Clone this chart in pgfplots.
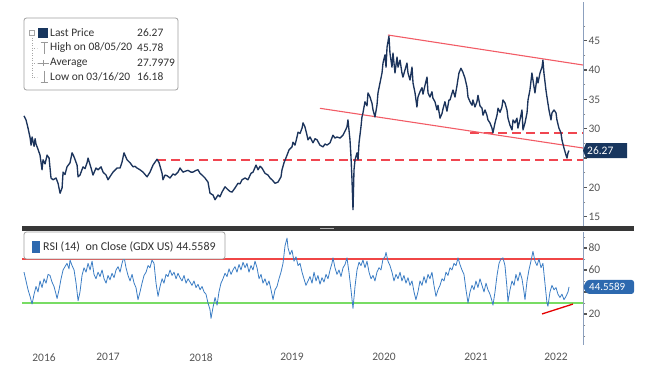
\documentclass[border=0pt]{standalone}
\usepackage{pgfplots}
\pgfplotsset{compat=1.18}
\usepackage{pgfplotstable}
\usepackage{fontspec}
\setmainfont{Carlito}
\definecolor{navy}{RGB}{28,52,92}
\definecolor{rsiblue}{RGB}{59,125,196}
\definecolor{trendred}{RGB}{242,92,102}
\definecolor{dashred}{RGB}{240,70,80}
\definecolor{rsired}{RGB}{240,70,70}
\definecolor{rsigreen}{RGB}{120,220,100}
\definecolor{axisline}{RGB}{140,160,190}
\definecolor{ticktext}{RGB}{85,85,85}
\definecolor{tagnavy}{RGB}{24,54,94}
\definecolor{tagblue}{RGB}{45,105,175}
\definecolor{divider}{RGB}{55,55,55}
\definecolor{legtext}{RGB}{50,50,50}
\pgfplotsset{/pgf/number format/assume math mode=true}

\pgfplotstableread{
year price
2016.590 32.2
2016.612 31.5
2016.634 30.1
2016.656 28.5
2016.667 27.2
2016.678 28.6
2016.700 27.0
2016.711 28.3
2016.721 27.4
2016.743 26.5
2016.765 25.5
2016.787 23.0
2016.798 24.7
2016.820 24.0
2016.842 25.5
2016.864 25.0
2016.885 21.6
2016.907 21.3
2016.940 21.6
2016.962 20.7
2016.984 19.0
2017.006 19.9
2017.017 22.6
2017.038 22.2
2017.060 23.5
2017.093 24.2
2017.115 25.9
2017.137 25.2
2017.170 23.8
2017.181 21.8
2017.202 22.1
2017.235 23.5
2017.257 23.2
2017.279 24.2
2017.290 25.0
2017.323 23.3
2017.344 22.1
2017.377 23.3
2017.399 23.0
2017.432 23.5
2017.454 22.6
2017.487 22.1
2017.508 21.3
2017.541 22.1
2017.563 22.6
2017.607 23.3
2017.640 23.3
2017.661 24.3
2017.683 25.9
2017.716 24.7
2017.749 24.2
2017.782 23.5
2017.803 23.6
2017.825 23.3
2017.858 23.0
2017.891 22.6
2017.935 21.8
2017.967 22.6
2018.000 23.8
2018.022 24.3
2018.044 24.8
2018.066 24.2
2018.099 22.4
2018.109 21.3
2018.131 22.1
2018.153 22.0
2018.186 21.6
2018.219 22.3
2018.241 22.1
2018.273 22.6
2018.295 23.3
2018.328 22.6
2018.361 22.8
2018.383 22.9
2018.415 22.6
2018.437 22.6
2018.470 22.9
2018.492 23.0
2018.514 22.4
2018.536 22.1
2018.568 21.6
2018.601 20.9
2018.623 19.0
2018.656 18.7
2018.678 17.9
2018.711 18.7
2018.732 18.4
2018.754 19.2
2018.787 20.1
2018.820 19.6
2018.842 19.3
2018.864 19.2
2018.896 19.9
2018.929 20.7
2018.951 20.6
2018.973 21.3
2019.006 21.6
2019.038 21.3
2019.071 22.4
2019.093 22.6
2019.126 23.8
2019.148 23.0
2019.170 23.6
2019.191 23.3
2019.224 22.4
2019.257 22.1
2019.279 21.6
2019.301 21.3
2019.334 20.7
2019.366 20.9
2019.399 21.8
2019.410 23.0
2019.432 24.2
2019.465 25.5
2019.487 26.4
2019.519 26.9
2019.530 27.7
2019.552 27.2
2019.574 28.6
2019.585 29.4
2019.607 29.2
2019.629 30.1
2019.640 31.0
2019.661 30.3
2019.683 28.9
2019.694 28.1
2019.716 28.6
2019.749 27.6
2019.771 28.3
2019.793 28.1
2019.825 27.2
2019.858 26.9
2019.880 27.4
2019.902 27.2
2019.935 27.6
2019.967 28.9
2019.989 28.4
2020.011 28.6
2020.044 28.4
2020.077 28.9
2020.099 29.6
2020.120 30.3
2020.131 31.5
2020.153 28.1
2020.164 25.2
2020.175 21.3
2020.186 16.18
2020.197 23.0
2020.208 24.7
2020.230 25.9
2020.241 24.7
2020.252 27.6
2020.273 30.3
2020.284 32.0
2020.295 32.7
2020.317 34.6
2020.339 33.9
2020.350 36.1
2020.372 35.4
2020.394 34.3
2020.405 33.2
2020.426 32.0
2020.448 34.0
2020.459 36.1
2020.481 37.8
2020.503 39.5
2020.514 41.2
2020.536 42.6
2020.547 40.5
2020.558 43.9
2020.579 45.78
2020.590 42.9
2020.612 40.5
2020.623 42.9
2020.645 39.5
2020.667 42.2
2020.678 40.5
2020.700 41.7
2020.721 39.5
2020.732 38.8
2020.754 40.0
2020.776 41.2
2020.787 39.5
2020.809 38.3
2020.831 40.5
2020.842 37.8
2020.864 36.1
2020.885 33.7
2020.896 35.4
2020.918 36.3
2020.940 37.0
2020.951 35.9
2020.973 37.4
2020.995 38.8
2021.006 36.1
2021.027 35.4
2021.049 36.3
2021.060 35.2
2021.082 34.6
2021.104 33.2
2021.115 34.0
2021.137 31.8
2021.159 32.6
2021.170 33.4
2021.191 34.6
2021.213 33.0
2021.235 34.9
2021.246 34.9
2021.279 36.6
2021.301 35.4
2021.323 37.4
2021.344 39.5
2021.366 40.3
2021.388 39.6
2021.410 38.6
2021.432 37.1
2021.443 35.4
2021.465 34.6
2021.487 34.0
2021.497 34.9
2021.519 33.7
2021.541 34.6
2021.552 35.7
2021.574 33.9
2021.596 33.5
2021.607 32.3
2021.629 33.2
2021.650 32.3
2021.661 31.5
2021.683 31.0
2021.705 30.1
2021.716 29.3
2021.738 31.0
2021.760 32.3
2021.771 33.5
2021.793 32.8
2021.814 33.7
2021.825 34.9
2021.847 34.4
2021.869 33.2
2021.880 31.8
2021.902 30.6
2021.924 29.8
2021.935 31.5
2021.956 31.0
2021.978 31.8
2021.989 30.1
2022.011 31.5
2022.033 33.2
2022.044 29.8
2022.066 31.0
2022.088 32.7
2022.099 34.9
2022.120 36.6
2022.142 39.5
2022.153 38.3
2022.175 36.1
2022.197 38.8
2022.208 37.8
2022.230 39.5
2022.252 40.5
2022.262 41.7
2022.273 39.5
2022.295 36.6
2022.306 35.4
2022.328 33.2
2022.350 31.5
2022.361 32.7
2022.383 33.2
2022.405 32.7
2022.415 31.5
2022.437 30.1
2022.459 29.3
2022.470 28.1
2022.492 26.7
2022.514 25.5
2022.525 25.0
2022.536 25.9
2022.547 26.27
}\pricedata

\pgfplotstableread{
year rsi
2016.590 58
2016.612 50
2016.634 42
2016.656 36
2016.678 29
2016.700 38
2016.721 45
2016.743 40
2016.765 50
2016.787 44
2016.809 52
2016.831 48
2016.853 56
2016.874 55
2016.896 49
2016.918 45
2016.940 38
2016.951 34
2016.973 42
2016.995 52
2017.017 60
2017.038 63
2017.060 66
2017.082 61
2017.093 69
2017.115 64
2017.137 60
2017.159 48
2017.181 32
2017.202 40
2017.224 55
2017.246 62
2017.268 58
2017.290 66
2017.312 60
2017.334 68
2017.355 56
2017.377 52
2017.399 58
2017.421 54
2017.443 60
2017.465 52
2017.487 48
2017.508 55
2017.530 51
2017.552 57
2017.574 53
2017.596 60
2017.618 63
2017.640 58
2017.661 66
2017.683 72
2017.705 62
2017.727 55
2017.749 50
2017.771 56
2017.793 48
2017.814 44
2017.836 33
2017.858 40
2017.880 48
2017.902 55
2017.924 58
2017.946 64
2017.967 62
2017.989 69
2018.011 66
2018.033 48
2018.055 36
2018.077 45
2018.099 52
2018.120 48
2018.142 56
2018.164 54
2018.186 60
2018.208 55
2018.230 58
2018.252 52
2018.273 57
2018.295 53
2018.317 50
2018.339 55
2018.361 48
2018.383 52
2018.405 49
2018.426 46
2018.448 50
2018.470 44
2018.492 47
2018.514 42
2018.536 45
2018.558 40
2018.579 38
2018.601 30
2018.623 24
2018.634 16
2018.656 26
2018.678 35
2018.700 28
2018.721 40
2018.743 48
2018.765 52
2018.787 57
2018.809 54
2018.831 61
2018.853 56
2018.874 60
2018.896 63
2018.918 58
2018.940 65
2018.962 60
2018.984 67
2019.006 62
2019.027 66
2019.049 58
2019.071 64
2019.093 60
2019.115 68
2019.137 62
2019.159 52
2019.181 56
2019.202 48
2019.224 52
2019.246 46
2019.268 50
2019.290 42
2019.312 33
2019.334 42
2019.355 45
2019.377 52
2019.399 58
2019.421 66
2019.443 82
2019.465 89
2019.476 80
2019.497 74
2019.519 78
2019.541 68
2019.563 72
2019.585 64
2019.607 66
2019.629 58
2019.650 52
2019.672 46
2019.694 50
2019.716 54
2019.738 48
2019.760 58
2019.782 50
2019.803 55
2019.825 47
2019.847 53
2019.869 49
2019.891 56
2019.913 52
2019.935 60
2019.956 66
2019.967 71
2019.989 62
2020.011 56
2020.033 60
2020.055 54
2020.077 62
2020.099 65
2020.120 71
2020.142 58
2020.164 42
2020.186 25
2020.208 45
2020.230 60
2020.252 67
2020.273 64
2020.295 69
2020.317 62
2020.339 68
2020.361 58
2020.383 52
2020.405 55
2020.426 50
2020.448 58
2020.470 62
2020.492 60
2020.514 70
2020.536 72
2020.547 76
2020.568 68
2020.590 64
2020.612 58
2020.634 50
2020.656 56
2020.678 52
2020.700 58
2020.721 50
2020.743 55
2020.765 48
2020.787 53
2020.809 46
2020.831 50
2020.853 40
2020.874 33
2020.896 40
2020.918 50
2020.940 46
2020.962 54
2020.984 48
2021.006 56
2021.027 52
2021.049 58
2021.071 46
2021.093 36
2021.115 42
2021.137 46
2021.159 52
2021.181 50
2021.202 58
2021.224 55
2021.246 62
2021.268 60
2021.290 66
2021.312 64
2021.334 71
2021.355 65
2021.377 60
2021.399 56
2021.421 42
2021.443 30
2021.465 40
2021.487 46
2021.508 42
2021.530 50
2021.552 44
2021.574 52
2021.596 46
2021.618 40
2021.640 48
2021.661 42
2021.683 38
2021.705 32
2021.716 28
2021.738 40
2021.760 55
2021.782 66
2021.803 70
2021.825 71
2021.847 64
2021.869 44
2021.880 31
2021.902 42
2021.924 50
2021.946 46
2021.967 56
2021.989 50
2022.011 58
2022.033 52
2022.055 40
2022.066 33
2022.088 50
2022.109 60
2022.131 68
2022.153 77
2022.175 68
2022.197 64
2022.219 70
2022.241 62
2022.262 66
2022.284 48
2022.306 30
2022.317 27
2022.339 40
2022.361 46
2022.383 42
2022.405 44
2022.426 38
2022.448 35
2022.470 38
2022.492 33
2022.514 36
2022.536 40
2022.547 44.5589
}\rsidata

\begin{document}
\begin{tikzpicture}
\useasboundingbox (0bp,0bp) rectangle (648bp,382bp);
% ---------------- price panel ----------------
\begin{axis}[
  at={(22bp,156bp)}, anchor=south west,
  scale only axis, width=561bp, height=224bp,
  xmin=2016.568, xmax=2022.700, ymin=13.42, ymax=51.6,
  axis y line*=right, axis x line=none,
  xtick=\empty,
  y axis line style={draw=axisline, line width=0.9bp},
  ytick={15,20,25,30,35,40,45},
  yticklabels={15,20,{},30,35,40,45},
  minor ytick={17.5,22.5,27.5,32.5,37.5,42.5,47.5},
  tick align=outside, major tick length=4bp, minor tick length=2.5bp,
  major tick style={draw=ticktext, line width=1.2bp},
  minor tick style={draw=ticktext!70, line width=0.6bp},
  yticklabel style={font=\fontsize{11.5}{12}\selectfont, text=ticktext, inner sep=1.5bp},
  clip=false,
]
\addplot[color=dashred, line width=1.4bp, dash pattern={on 9bp off 5bp}] coordinates {(2018.044,24.7) (2022.700,24.7)};
\addplot[color=dashred, line width=1.5bp, dash pattern={on 9bp off 5bp}] coordinates {(2021.465,29.27) (2022.700,29.27)};
\addplot[trendred, line width=1.1bp] coordinates {(2020.568,45.97) (2022.700,40.86)};
\addplot[trendred, line width=1.1bp] coordinates {(2019.825,33.48) (2022.700,26.71)};
\addplot[navy, line width=1.35bp, line join=round] table[x=year, y=price] {\pricedata};
\fill[tagnavy] (axis cs:2022.700,26.27) -- ++(3bp,7.5bp) -- ++(41bp,0bp) -- ++(0bp,-15bp) -- ++(-41bp,0bp) -- cycle;
\node[anchor=west, text=white, inner sep=0pt, font=\fontsize{11.5}{12}\selectfont] at ([xshift=4bp]axis cs:2022.700,26.27) {26.27};
\end{axis}
% ---------------- RSI panel ----------------
\begin{axis}[
  at={(22bp,37bp)}, anchor=south west,
  scale only axis, width=561bp, height=113bp,
  xmin=2016.568, xmax=2022.700, ymin=-8.2, ymax=94.5,
  axis y line*=right, axis x line*=bottom,
  x axis line style={draw=none},
  y axis line style={draw=axisline, line width=0.9bp},
  ytick={20,40,60,80},
  yticklabels={20,{},60,80},
  minor ytick={0,10,30,50,70,90},
  xtick={2016.809,2017.508,2018.525,2019.519,2020.525,2021.530,2022.405},
  xticklabels={2016,2017,2018,2019,2020,2021,2022},
  tick align=outside, major tick length=4bp, minor tick length=2.5bp,
  major tick style={draw=ticktext, line width=1.2bp},
  minor tick style={draw=ticktext!70, line width=0.6bp},
  major x tick style={draw=none},
  yticklabel style={font=\fontsize{11.5}{12}\selectfont, text=ticktext, inner sep=1.5bp},
  xticklabel style={font=\fontsize{11.5}{12}\selectfont, text=ticktext, yshift=-1bp},
  clip=false,
]
\addplot[rsired, line width=1.1bp] coordinates {(2016.568,70) (2022.700,70)};
\addplot[rsigreen, line width=1.4bp] coordinates {(2016.568,30) (2022.700,30)};
\addplot[rsiblue, line width=0.8bp, line join=round] table[x=year, y=rsi] {\rsidata};
\addplot[red!90!black, line width=1.3bp] coordinates {(2022.252,20) (2022.590,29)};
\fill[tagblue, rounded corners=2.5bp] (axis cs:2022.700,44.5589) -- ++(4bp,7bp) -- ++(47bp,0bp) -- ++(0bp,-14bp) -- ++(-47bp,0bp) -- cycle;
\node[anchor=west, text=white, inner sep=0pt, font=\fontsize{11}{12}\selectfont] at ([xshift=6bp]axis cs:2022.700,44.5589) {44.5589};
\end{axis}
% ---------------- decorations ----------------
\begin{scope}[x=1bp, y=1bp]
% divider bar
\fill[divider] (22,151) rectangle (634,156);
\fill[gray!60] (320,153) rectangle (334,154.2);
% price legend
\draw[draw=gray!75, fill=white, rounded corners=2.5, line width=0.8] (24,292) rectangle (178,364);
\draw[gray!70, line width=0.5, dotted] (32,349) -- (32,305);
\foreach \yy in {334,319,305} {\draw[gray!70, line width=0.5, dotted] (32,\yy) -- (37,\yy);}
\draw[gray!70, line width=0.5, fill=white] (29.5,346.5) rectangle (34.5,351.5);
\fill[tagnavy] (38,344) rectangle (48,354);
\draw[gray!80, line width=0.8] (40.5,340) -- (47.5,340) (44,340) -- (44,328);
\draw[gray!80, line width=0.8] (37.5,319) -- (48.5,319) (43,316) -- (43,322);
\draw[gray!80, line width=0.8] (44,311) -- (44,300) (40.5,300) -- (47.5,300);
\begin{scope}[every node/.style={anchor=west, inner sep=0pt, text=legtext, font=\fontsize{11.5}{13}\selectfont}]
\node at (50,349) {Last Price};
\node at (50,334) {High on 08/05/20};
\node at (50,319) {Average};
\node at (50,305) {Low on 03/16/20};
\node at (137,349) {26.27};
\node at (137,334) {45.78};
\node at (137,319) {27.7979};
\node at (137,305) {16.18};
\end{scope}
% RSI legend
\draw[draw=gray!75, fill=white, rounded corners=2.5, line width=0.8] (24,123) rectangle (225,150);
\fill[tagblue] (32,129) rectangle (40,141);
\node[anchor=west, inner sep=0pt, text=legtext, font=\fontsize{12}{13}\selectfont] at (43,135) {RSI (14)\ \ on Close (GDX US) 44.5589};
\end{scope}
\end{tikzpicture}
\end{document}
